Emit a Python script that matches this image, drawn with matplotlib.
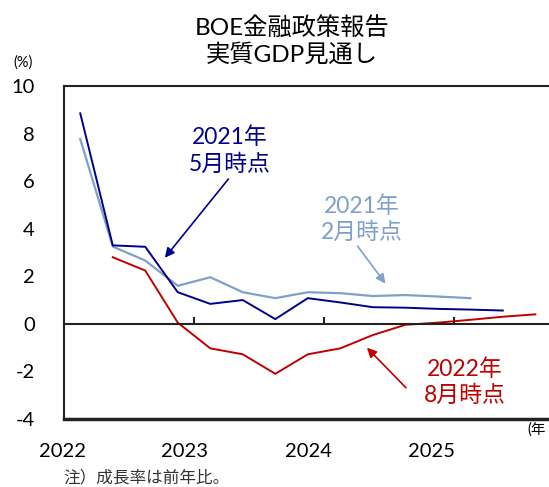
import numpy as np
import matplotlib
matplotlib.use("Agg")
import matplotlib.pyplot as plt

plt.rcParams['font.family'] = ['Lato', 'Noto Sans CJK JP', 'DejaVu Sans']
plt.rcParams['axes.unicode_minus'] = False

# データ（四半期、2022Q1〜）
quarters = np.arange(15)
may2021 = [8.85, 3.30, 3.24, 1.33, 0.84, 1.00, 0.20, 1.08, 0.90, 0.70, 0.68, 0.63, 0.60, 0.56, np.nan]
feb2021 = [7.77, 3.25, 2.66, 1.60, 1.96, 1.33, 1.08, 1.33, 1.29, 1.17, 1.21, 1.15, 1.08, np.nan, np.nan]
aug2022 = [np.nan, 2.80, 2.24, 0.05, -1.03, -1.28, -2.10, -1.28, -1.03, -0.47, -0.04, 0.05, 0.17, 0.30, 0.40]
year_labels = ["2022", "2023", "2024", "2025"]

c_may = "#00008B"
c_feb = "#7FA0C8"
c_aug = "#C00000"

fig = plt.figure(figsize=(5.49, 4.87), dpi=100)
ax = fig.add_axes([64/549, 68/487, 1 - 64/549, 333/487])

ax.plot(quarters, feb2021, color=c_feb, lw=1.6)
ax.plot(quarters, may2021, color=c_may, lw=1.4)
ax.plot(quarters, aug2022, color=c_aug, lw=1.4)

ax.set_xlim(-0.5, 14.42)
ax.set_ylim(-4, 10)
ax.set_yticks(range(-4, 11, 2))
ax.tick_params(axis='y', length=0, pad=21, labelsize=14.5)

# 0の線に年の区切り目盛
ax.spines['bottom'].set_position(('data', 0))
ax.spines['right'].set_visible(False)
for s in ['left', 'top', 'bottom']:
    ax.spines[s].set_linewidth(1.5)
    ax.spines[s].set_color('#222222')
ax.set_xticks([3.5, 7.5, 11.5])
ax.set_xticklabels([])
ax.tick_params(axis='x', direction='in', length=5, width=1.5, color='#222222')
ax.axhline(-4, color='#222222', lw=2.5, clip_on=False)

# 年ラベル
label_x = [-0.56, 3.22, 7.03, 10.82]
for xx, lab in zip(label_x, year_labels):
    ax.text(xx, -5.35, lab, ha='center', va='center', fontsize=14.5, clip_on=False)

fig.text(527/549, 1 - 430/487, "(年", ha='left', va='center', fontsize=10.5)
fig.text(13/549, 1 - 63/487, "(%)", ha='left', va='center', fontsize=10.5)
fig.text(292/549, 1 - 41/487, "BOE金融政策報告\n実質GDP見通し", ha='center', va='center',
         fontsize=17.5, linespacing=1.2)
fig.text(63/549, 1 - 477/487, "注）成長率は前年比。", ha='left', va='center',
         fontsize=12, color='#333333')

# 注記と矢印
ax.text(4.61, 7.3, "2021年\n5月時点", color=c_may, ha='center', va='center',
        fontsize=16.5, linespacing=1.3)
ax.annotate('', xy=(2.55, 2.69), xytext=(4.61, 6.18),
            arrowprops=dict(arrowstyle='-|>', color=c_may, lw=1.2, mutation_scale=14))

ax.text(8.67, 4.4, "2021年\n2月時点", color=c_feb, ha='center', va='center',
        fontsize=16.5, linespacing=1.3)
ax.annotate('', xy=(9.44, 1.60), xytext=(8.48, 3.36),
            arrowprops=dict(arrowstyle='-|>', color=c_feb, lw=1.2, mutation_scale=14))

ax.text(11.84, -2.45, "2022年\n8月時点", color=c_aug, ha='center', va='center',
        fontsize=16.5, linespacing=1.3)
ax.annotate('', xy=(8.76, -0.92), xytext=(10.08, -2.77),
            arrowprops=dict(arrowstyle='-|>', color=c_aug, lw=1.2, mutation_scale=14))

fig.savefig("out.png", dpi=100)
